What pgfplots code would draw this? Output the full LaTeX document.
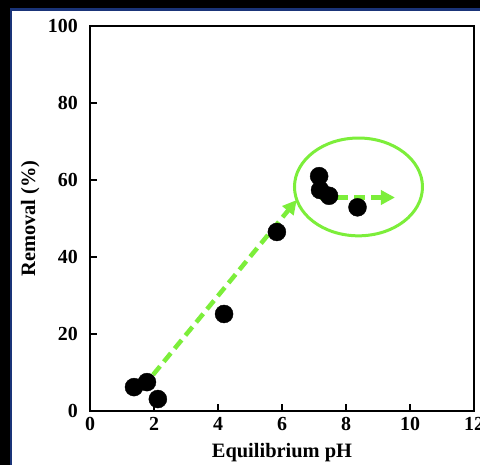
\documentclass[border=0pt]{standalone}
\usepackage{fontspec}
\setmainfont{Liberation Serif}
\usepackage{pgfplots}
\pgfplotsset{compat=1.18}
\usetikzlibrary{arrows.meta}
\definecolor{navyframe}{RGB}{26,52,120}
\definecolor{limegreen}{RGB}{124,238,58}
\begin{document}
\begin{tikzpicture}[x=1bp,y=1bp]
\useasboundingbox (0,0) rectangle (480,465);
\fill[black] (0,0) rectangle (480,465);
\fill[navyframe] (10,0) rectangle (480,457);
\fill[white] (12,0) rectangle (480,454);
\begin{axis}[
  at={(90bp,54bp)}, anchor=south west,
  scale only axis, width=384bp, height=385bp,
  xmin=0, xmax=12, ymin=0, ymax=100,
  xtick={0,2,4,6,8,10,12}, ytick={0,20,40,60,80,100},
  xtick pos=bottom, ytick pos=left,
  tick align=inside, major tick length=7bp,
  axis line style={line width=1.3bp},
  every tick/.style={black, line width=1.3bp},
  /pgf/number format/assume math mode=true,
  tick label style={font=\fontsize{20}{22}\selectfont\bfseries, inner sep=0pt},
  xticklabel style={anchor=north, yshift=-6bp},
  yticklabel style={anchor=east, xshift=-12bp},
  xlabel={Equilibrium pH}, ylabel={Removal (\%)},
  label style={font=\fontsize{20.5}{23}\selectfont\bfseries},
  xlabel style={at={(axis description cs:0.5,-0.109)}, anchor=center},
  ylabel style={at={(axis description cs:-0.156,0.5)}, anchor=center, rotate=0},
]
\addplot[only marks, mark=*, mark size=9bp, mark options={fill=black, draw=black}]
coordinates {
(1.375,6.2) (1.78,7.5) (2.12,3.1) (4.19,25.2) (5.84,46.5)
(7.16,61.0) (7.19,57.4) (7.47,55.9) (8.36,52.9)
};
\draw[limegreen, line width=3bp] (axis cs:8.39,58.2) ellipse [x radius=2.0, y radius=12.7];
\addplot[limegreen, line width=4.5bp, dash pattern=on 11bp off 6bp,
  -{Triangle[length=14bp,width=14bp]}] coordinates {(1.97,9.4) (6.46,54.8)};
\addplot[limegreen, line width=4.5bp, dash pattern=on 11bp off 6bp,
  -{Triangle[length=14bp,width=14bp]}] coordinates {(7.19,55.45) (9.53,55.45)};
\end{axis}
\end{tikzpicture}
\end{document}
